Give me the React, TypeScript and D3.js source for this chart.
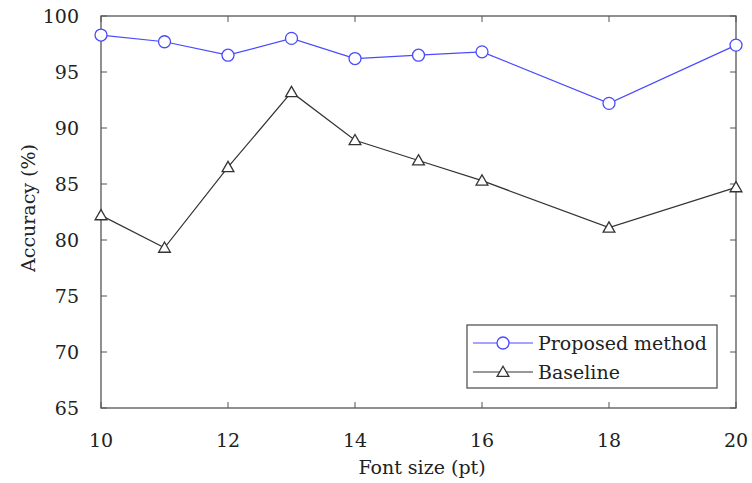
import React, { useEffect, useRef } from "react";
import * as d3 from "d3";

const fontSizes = [10, 11, 12, 13, 14, 15, 16, 18, 20];
const proposed = [98.3, 97.7, 96.5, 98.0, 96.2, 96.5, 96.8, 92.2, 97.4];
const baseline = [82.2, 79.3, 86.5, 93.2, 88.9, 87.1, 85.3, 81.1, 84.7];
const xTicks = [10, 12, 14, 16, 18, 20];
const yTicks = [65, 70, 75, 80, 85, 90, 95, 100];

const App = () => {
  const svgRef = useRef<SVGSVGElement>(null);

  useEffect(() => {
    const width = 752;
    const height = 483;
    const left = 101;
    const right = 736;
    const top = 16;
    const bottom = 408;
    const font = "'DejaVu Serif', serif";
    const axisColor = "#555";
    const blue = "#4a4aff";
    const dark = "#333";

    const svg = d3.select(svgRef.current);
    svg.selectAll("*").remove();
    svg.attr("width", width).attr("height", height);

    const x = d3.scaleLinear().domain([10, 20]).range([left, right]);
    const y = d3.scaleLinear().domain([65, 100]).range([bottom, top]);

    svg.append("rect").attr("width", width).attr("height", height).attr("fill", "white");

    // ticks on all four sides
    const tickLen = 6;
    const g = svg.append("g").attr("stroke", axisColor).attr("stroke-width", 1);
    xTicks.forEach((t) => {
      g.append("line").attr("x1", x(t)).attr("x2", x(t)).attr("y1", bottom).attr("y2", bottom - tickLen);
      g.append("line").attr("x1", x(t)).attr("x2", x(t)).attr("y1", top).attr("y2", top + tickLen);
    });
    yTicks.forEach((t) => {
      g.append("line").attr("x1", left).attr("x2", left + tickLen).attr("y1", y(t)).attr("y2", y(t));
      g.append("line").attr("x1", right).attr("x2", right - tickLen).attr("y1", y(t)).attr("y2", y(t));
    });

    svg
      .append("rect")
      .attr("x", left)
      .attr("y", top)
      .attr("width", right - left)
      .attr("height", bottom - top)
      .attr("fill", "none")
      .attr("stroke", axisColor)
      .attr("stroke-width", 1.3);

    const labels = svg.append("g").style("font-family", font).style("font-size", "19px").attr("fill", "#222");
    xTicks.forEach((t) => {
      labels.append("text").attr("x", x(t)).attr("y", bottom + 39).attr("text-anchor", "middle").text(t);
    });
    yTicks.forEach((t) => {
      labels.append("text").attr("x", left - 22).attr("y", y(t) + 7).attr("text-anchor", "end").text(t);
    });

    labels
      .append("text")
      .attr("x", 422)
      .attr("y", 474)
      .attr("text-anchor", "middle")
      .text("Font size (pt)");
    labels
      .append("text")
      .attr("transform", `translate(35,208) rotate(-90)`)
      .attr("text-anchor", "middle")
      .text("Accuracy (%)");

    const line = d3
      .line<number>()
      .x((_, i) => x(fontSizes[i]))
      .y((d) => y(d));

    const tri = d3.symbol().type(d3.symbolTriangle).size(60);

    const drawCircle = (sel: any, cx: number, cy: number) =>
      sel
        .append("circle")
        .attr("cx", cx)
        .attr("cy", cy)
        .attr("r", 6)
        .attr("fill", "white")
        .attr("stroke", blue)
        .attr("stroke-width", 1.3);
    const drawTri = (sel: any, cx: number, cy: number) =>
      sel
        .append("path")
        .attr("d", tri()!)
        .attr("transform", `translate(${cx},${cy + 1})`)
        .attr("fill", "white")
        .attr("stroke", dark)
        .attr("stroke-width", 1.3);

    svg.append("path").attr("d", line(baseline)!).attr("fill", "none").attr("stroke", dark).attr("stroke-width", 1.2);
    svg.append("path").attr("d", line(proposed)!).attr("fill", "none").attr("stroke", blue).attr("stroke-width", 1.2);

    const marks = svg.append("g");
    baseline.forEach((v, i) => drawTri(marks, x(fontSizes[i]), y(v)));
    proposed.forEach((v, i) => drawCircle(marks, x(fontSizes[i]), y(v)));

    // legend
    const lg = svg.append("g");
    lg.append("rect")
      .attr("x", 467)
      .attr("y", 325)
      .attr("width", 250)
      .attr("height", 63)
      .attr("fill", "white")
      .attr("stroke", axisColor)
      .attr("stroke-width", 1.3);
    const items = [
      { name: "Proposed method", color: blue, y: 343, mark: drawCircle },
      { name: "Baseline", color: dark, y: 372, mark: drawTri },
    ];
    items.forEach((it) => {
      lg.append("line")
        .attr("x1", 473)
        .attr("x2", 533)
        .attr("y1", it.y)
        .attr("y2", it.y)
        .attr("stroke", it.color)
        .attr("stroke-width", 1.2);
      it.mark(lg, 503, it.y);
      lg.append("text")
        .attr("x", 538)
        .attr("y", it.y + 7)
        .style("font-family", font)
        .style("font-size", "19px")
        .attr("fill", "#222")
        .text(it.name);
    });
  }, []);

  return <svg ref={svgRef} style={{ display: "block", position: "absolute", left: 0, top: 0 }}></svg>;
};

export default App;
